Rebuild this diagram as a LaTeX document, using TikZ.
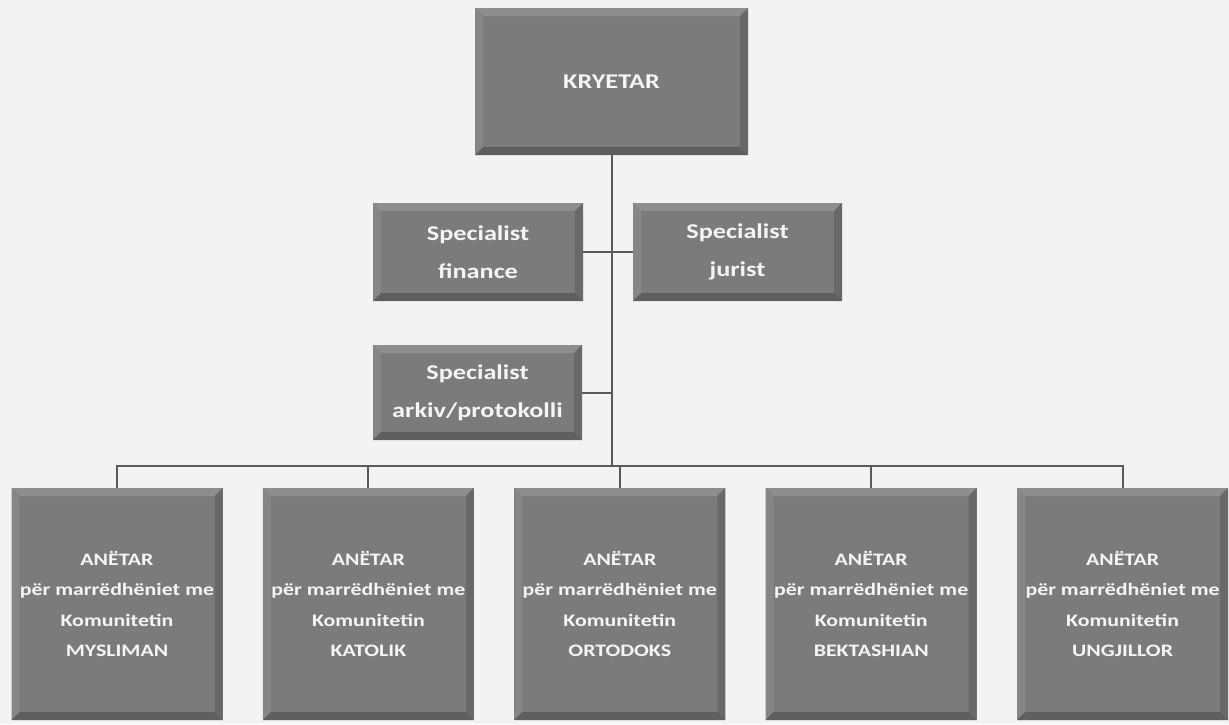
\documentclass[tikz,border=0pt]{standalone}
\usepackage{fontspec}
\setmainfont{Carlito}
\newfontfamily\boxfont[FakeStretch=1.25]{Carlito}
\usepackage{xcolor}
\usetikzlibrary{positioning, calc}
\definecolor{paper}{HTML}{F3F3F3}
\definecolor{boxgray}{HTML}{7B7B7B}
\definecolor{bevtop}{HTML}{8E8E8E}
\definecolor{bevleft}{HTML}{868686}
\definecolor{bevright}{HTML}{696969}
\definecolor{bevbottom}{HTML}{5F5F5F}
\definecolor{linkgray}{HTML}{5A5A5A}

\begin{document}
\begin{tikzpicture}[
        x=1pt, y=-1pt,
        box/.style={rectangle, fill=boxgray, text=white!92!gray, align=center, inner sep=0pt,
            path picture={
                \coordinate (bnw) at (path picture bounding box.north west);
                \coordinate (bne) at (path picture bounding box.north east);
                \coordinate (bse) at (path picture bounding box.south east);
                \coordinate (bsw) at (path picture bounding box.south west);
                \fill[bevtop] (bnw) -- (bne) -- ([shift={(-8pt,-8pt)}]bne) -- ([shift={(8pt,-8pt)}]bnw) -- cycle;
                \fill[bevleft] (bnw) -- (bsw) -- ([shift={(8pt,8pt)}]bsw) -- ([shift={(8pt,-8pt)}]bnw) -- cycle;
                \fill[bevright] (bne) -- (bse) -- ([shift={(-8pt,8pt)}]bse) -- ([shift={(-8pt,-8pt)}]bne) -- cycle;
                \fill[bevbottom] (bsw) -- (bse) -- ([shift={(-8pt,8pt)}]bse) -- ([shift={(8pt,8pt)}]bsw) -- cycle;
            }},
        head/.style={box, font=\boxfont\bfseries\fontsize{21}{38}\selectfont},
        member/.style={box, minimum width=211pt, minimum height=232pt,
            font=\boxfont\bfseries\fontsize{17.5}{30.5}\selectfont},
        link/.style={draw=linkgray, line width=2pt},
        node distance=40pt
    ]
        \fill[paper] (0,0) rectangle (1229,724);
        \useasboundingbox (0,0) rectangle (1229,724);

        \node[head, minimum width=273pt, minimum height=147pt] (kryetar) at (611.5,81.5) {KRYETAR};
        \node[head, minimum width=210pt, minimum height=98pt] (finance) at (478,252) {Specialist\\finance};
        \node[head, minimum width=209pt, minimum height=98pt] (jurist) at (737.5,252) {Specialist\\jurist};
        \node[head, minimum width=209pt, minimum height=95pt] (arkiv) at (477.5,392.5) {Specialist\\arkiv/protokolli};

        \node[member] (mysliman) at (117,604) {ANËTAR\\për marrëdhëniet me\\Komunitetin\\MYSLIMAN};
        \node[member, right=of mysliman] (katolik) {ANËTAR\\për marrëdhëniet me\\Komunitetin\\KATOLIK};
        \node[member, right=of katolik] (ortodoks) {ANËTAR\\për marrëdhëniet me\\Komunitetin\\ORTODOKS};
        \node[member, right=of ortodoks] (bektashian) {ANËTAR\\për marrëdhëniet me\\Komunitetin\\BEKTASHIAN};
        \node[member, right=of bektashian] (ungjillor) {ANËTAR\\për marrëdhëniet me\\Komunitetin\\UNGJILLOR};

        % trunk and staff
        \coordinate (busleft) at ([yshift=22pt]mysliman.north);
        \draw[link] (kryetar.south) -- (kryetar.south |- busleft);
        \draw[link] (finance.east) -- (jurist.west);
        \draw[link] (arkiv.east) -- (kryetar.south |- arkiv.east);

        % members
        \draw[link] (mysliman.north) -- (busleft) -| (ungjillor.north);
        \draw[link] (katolik.north) -- (katolik.north |- busleft);
        \draw[link] (ortodoks.north) -- (ortodoks.north |- busleft);
        \draw[link] (bektashian.north) -- (bektashian.north |- busleft);
    \end{tikzpicture}
\end{document}
